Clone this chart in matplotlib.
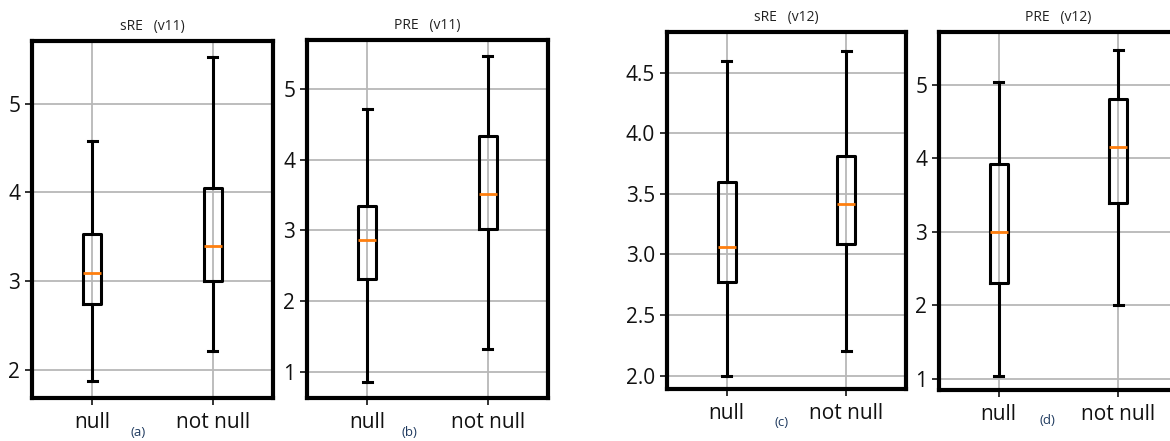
import matplotlib
matplotlib.use("Agg")
import matplotlib.pyplot as plt
from matplotlib.ticker import FormatStrFormatter

plt.rcParams['font.family'] = ['Open Sans', 'DejaVu Sans']

groups = ['null', 'not null']

# whisker low, Q1, median, Q3, whisker high  (null, not null)
sre_v11_low = [1.87, 2.21]
sre_v11_q1 = [2.74, 3.00]
sre_v11_med = [3.09, 3.40]
sre_v11_q3 = [3.53, 4.05]
sre_v11_high = [4.58, 5.53]

pre_v11_low = [0.86, 1.32]
pre_v11_q1 = [2.31, 3.02]
pre_v11_med = [2.86, 3.52]
pre_v11_q3 = [3.35, 4.33]
pre_v11_high = [4.72, 5.46]

sre_v12_low = [2.00, 2.20]
sre_v12_q1 = [2.77, 3.09]
sre_v12_med = [3.06, 3.42]
sre_v12_q3 = [3.60, 3.81]
sre_v12_high = [4.60, 4.68]

pre_v12_low = [1.04, 2.00]
pre_v12_q1 = [2.30, 3.40]
pre_v12_med = [3.00, 4.16]
pre_v12_q3 = [3.92, 4.81]
pre_v12_high = [5.04, 5.48]

panels = [
    # title metric, version, letter, data, yticks, ylim, rect(px: x0, y0, x1, y1), letter pos(px)
    ('sRE', '(v11)', '(a)', (sre_v11_low, sre_v11_q1, sre_v11_med, sre_v11_q3, sre_v11_high),
     [2, 3, 4, 5], (1.68, 5.71), (32, 41, 273, 398), (138, 433)),
    ('PRE', '(v11)', '(b)', (pre_v11_low, pre_v11_q1, pre_v11_med, pre_v11_q3, pre_v11_high),
     [1, 2, 3, 4, 5], (0.63, 5.69), (307, 40, 548, 398), (409, 433)),
    ('sRE', '(v12)', '(c)', (sre_v12_low, sre_v12_q1, sre_v12_med, sre_v12_q3, sre_v12_high),
     [2.0, 2.5, 3.0, 3.5, 4.0, 4.5], (1.89, 4.836), (667, 32, 906, 389), (782, 423)),
    ('PRE', '(v12)', '(d)', (pre_v12_low, pre_v12_q1, pre_v12_med, pre_v12_q3, pre_v12_high),
     [1, 2, 3, 4, 5], (0.85, 5.72), (939, 32, 1178, 390), (1047, 420)),
]

W, H = 1170, 441
fig = plt.figure(figsize=(W / 100, H / 100), dpi=100)

for metric, ver, letter, data, yt, yl, r, lp in panels:
    x0, y0, x1, y1 = r
    ax = fig.add_axes([x0 / W, 1 - y1 / H, (x1 - x0) / W, (y1 - y0) / H])
    low, q1, med, q3, high = data
    stats = []
    for i in range(len(groups)):
        stats.append({'whislo': low[i], 'q1': q1[i], 'med': med[i],
                      'q3': q3[i], 'whishi': high[i], 'fliers': [], 'label': groups[i]})
    ax.bxp(stats, widths=0.15, showfliers=False,
           boxprops=dict(color='black', linewidth=2.2),
           whiskerprops=dict(color='black', linewidth=2.2),
           capprops=dict(color='black', linewidth=2.2),
           medianprops=dict(color='#ff7f0e', linewidth=2.0))
    ax.set_xlim(0.5, 2.5)
    ax.set_ylim(*yl)
    ax.set_yticks(yt)
    if metric == 'sRE' and ver == '(v12)':
        ax.yaxis.set_major_formatter(FormatStrFormatter('%.1f'))
    ax.grid(True, color='#b8b8b8', linewidth=1.3)
    ax.set_axisbelow(True)
    for s in ax.spines.values():
        s.set_linewidth(3.0)
        s.set_color('black')
    ax.tick_params(axis='both', labelsize=15, length=5, width=1.2, colors='#111111')
    ax.tick_params(axis='x', pad=5)
    ax.set_title(metric + '   ' + ver, fontsize=10, color='#222222', pad=8)
    fig.text(lp[0] / W, 1 - lp[1] / H, letter,
             fontsize=9.5, color='#1f3a5f', ha='center', va='center')

fig.savefig('out.png', dpi=100)
